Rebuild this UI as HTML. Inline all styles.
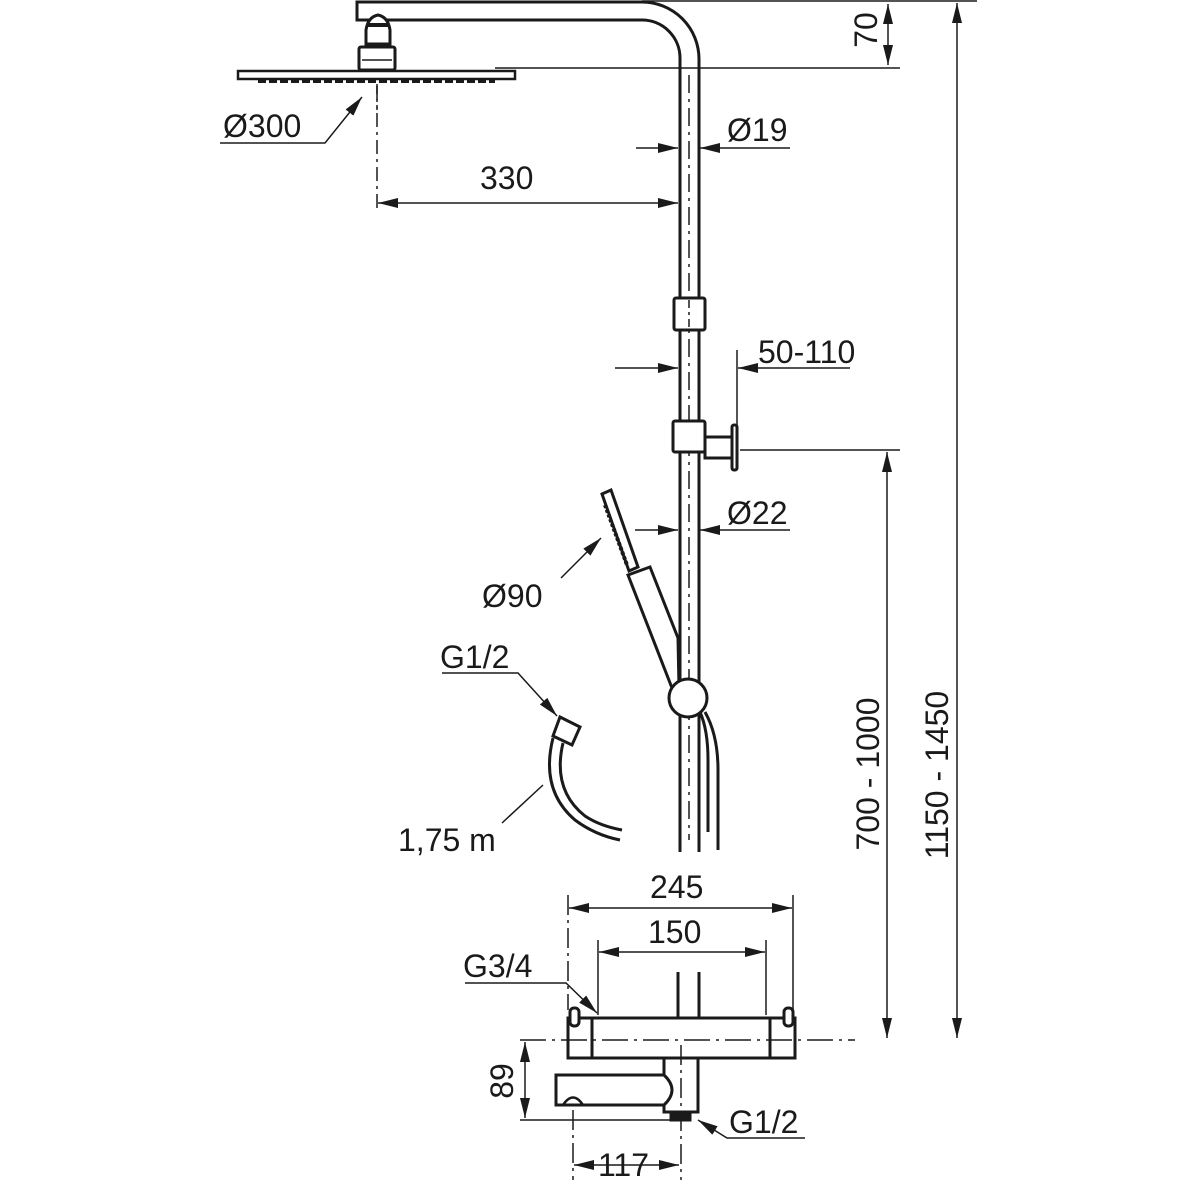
<!DOCTYPE html>
<html><head><style>html,body{margin:0;padding:0;background:#fff}svg{display:block}</style></head><body>
<svg width="1200" height="1200" viewBox="0 0 1200 1200" xmlns="http://www.w3.org/2000/svg" font-family="Liberation Sans, Arial, sans-serif" font-size="32" fill="none" stroke="#1a1a1a">
<defs>
<marker id="a" viewBox="0 0 20 10" refX="20" refY="5" markerWidth="20" markerHeight="10" markerUnits="userSpaceOnUse" orient="auto-start-reverse"><path d="M0,0 L20,5 L0,10 z" fill="#1a1a1a" stroke="none"/></marker>
</defs>
<g stroke-width="1.5">
<line x1="642" y1="1" x2="977" y2="1"/>
<line x1="495" y1="68" x2="900" y2="68"/>
<line x1="888" y1="4" x2="888" y2="65" marker-start="url(#a)" marker-end="url(#a)"/>
<line x1="957" y1="3" x2="957" y2="1038" marker-start="url(#a)" marker-end="url(#a)"/>
<line x1="887" y1="452" x2="887" y2="1038" marker-start="url(#a)" marker-end="url(#a)"/>
<polyline points="220,143 325,143 362,97" marker-end="url(#a)"/>
<line x1="636" y1="148" x2="678" y2="148" marker-end="url(#a)"/>
<polyline points="790,148 700,148" marker-end="url(#a)"/>
<line x1="378" y1="203" x2="678" y2="203" marker-start="url(#a)" marker-end="url(#a)"/>
<line x1="377" y1="86" x2="377" y2="212" stroke-dasharray="14,5,3,5"/>
<line x1="615" y1="368" x2="678" y2="368" marker-end="url(#a)"/>
<line x1="850" y1="368" x2="738" y2="368" marker-end="url(#a)"/>
<line x1="737" y1="350" x2="737" y2="425"/>
<line x1="740" y1="450" x2="900" y2="450"/>
<line x1="635" y1="530" x2="678" y2="530" marker-end="url(#a)"/>
<line x1="790" y1="530" x2="700" y2="530" marker-end="url(#a)"/>
<line x1="561" y1="578" x2="601" y2="538" marker-end="url(#a)"/>
<polyline points="442,673 518,673 557,716" marker-end="url(#a)"/>
<line x1="502" y1="823" x2="543" y2="785"/>
<line x1="569" y1="908" x2="792" y2="908" marker-start="url(#a)" marker-end="url(#a)"/>
<line x1="599" y1="952" x2="765" y2="952" marker-start="url(#a)" marker-end="url(#a)"/>
<line x1="568" y1="895" x2="568" y2="1010" stroke-dasharray="20,5,3,5"/>
<line x1="793" y1="895" x2="793" y2="1012"/>
<line x1="598" y1="940" x2="598" y2="1015"/>
<line x1="766" y1="940" x2="766" y2="1015"/>
<polyline points="465,983 566,983 597,1013" marker-end="url(#a)"/>
<line x1="520" y1="1040" x2="855" y2="1040" stroke-dasharray="26,6,3,6"/>
<line x1="525" y1="1042" x2="525" y2="1118" marker-start="url(#a)" marker-end="url(#a)"/>
<line x1="520" y1="1120" x2="670" y2="1120"/>
<polyline points="805,1138 727,1138 698,1120" marker-end="url(#a)"/>
<line x1="574" y1="1165" x2="679" y2="1165" marker-start="url(#a)" marker-end="url(#a)"/>
<line x1="573" y1="1110" x2="573" y2="1180" stroke-dasharray="20,5,3,5"/>
<line x1="681" y1="1045" x2="681" y2="1180" stroke-dasharray="20,5,3,5"/>
<line x1="689" y1="75" x2="689" y2="840" stroke-dasharray="18,6,3,6"/>
</g>
<g stroke-width="3">
<path d="M642,2 L357,2 L357,20 L642,20 A38,38 0 0 1 680,58 L680,852"/>
<path d="M642,2 A57,57 0 0 1 699,59 L699,852"/>
<path d="M366,44 L366,30 Q368,17 378,15 Q388,17 390,30 L390,44 Z" fill="#fff"/>
<line x1="367" y1="25" x2="389" y2="25" stroke-width="4"/>
<rect x="359" y="47" width="36" height="23" rx="2"/>
<line x1="362" y1="60" x2="392" y2="60" stroke-width="1.5"/>
<rect x="238" y="71" width="277" height="8" stroke-width="2.5"/>
<line x1="258" y1="81" x2="495" y2="81" stroke-width="4" stroke-dasharray="8,3"/>
<line x1="377" y1="84" x2="377" y2="110" stroke-width="1.5" stroke-dasharray="10,5,3,5"/>
<rect x="674" y="298" width="31" height="32" rx="2" fill="#fff"/>
<line x1="689" y1="300" x2="689" y2="328" stroke-width="1.5" stroke-dasharray="8,4,3,4"/>
<rect x="673" y="421" width="32" height="31" rx="2" fill="#fff"/>
<rect x="705" y="437" width="28" height="21"/>
<rect x="732" y="425" width="5" height="45" rx="2" fill="#fff"/>
<polygon points="602,494 611,490 638,567 629,571" fill="#fff"/>
<line x1="605" y1="505" x2="627" y2="565" stroke-width="4" stroke-dasharray="3,2"/>
<polygon points="628,575 650,567 678,638 679,688 672,688" fill="#fff"/>
<circle cx="688" cy="698" r="19" fill="#fff"/>
<path d="M700,712 Q708,730 708,760 L708,832"/>
<path d="M705,712 Q718,735 718,770 L718,850"/>
<polygon points="560,717 580,727 572,745 553,736" fill="#fff"/>
<path d="M553,738 Q540,790 575,820 Q595,835 620,840"/>
<path d="M563,743 Q552,790 585,816 Q600,826 622,830"/>
<line x1="678" y1="972" x2="678" y2="1018"/>
<line x1="699" y1="972" x2="699" y2="1018"/>
<rect x="568" y="1018" width="227" height="40"/>
<line x1="592" y1="1018" x2="592" y2="1058"/>
<line x1="770" y1="1018" x2="770" y2="1058"/>
<rect x="570" y="1008" width="9" height="18" rx="4" fill="#fff"/>
<rect x="784" y="1008" width="9" height="18" rx="4" fill="#fff"/>
<path d="M664,1058 L664,1075 L556,1075 L556,1105 L664,1105 L664,1112 L698,1112 L698,1058"/>
<path d="M664,1075 Q680,1090 664,1105"/>
<path d="M563,1105 Q573,1090 583,1105" stroke-width="2.5"/>
<rect x="671" y="1112" width="19" height="8" fill="#1a1a1a"/>
</g>
<g fill="#1a1a1a" stroke="none">
<text x="223" y="137">Ø300</text>
<text x="727" y="141">Ø19</text>
<text x="480" y="189">330</text>
<text x="758" y="363">50-110</text>
<text x="727" y="524">Ø22</text>
<text x="482" y="607">Ø90</text>
<text x="440" y="668">G1/2</text>
<text x="398" y="851">1,75 m</text>
<text x="650" y="898">245</text>
<text x="648" y="943">150</text>
<text x="463" y="977">G3/4</text>
<text x="729" y="1133">G1/2</text>
<text x="598" y="1176">117</text>
<text transform="translate(877,30) rotate(-90)" text-anchor="middle">70</text>
<text transform="translate(513,1081) rotate(-90)" text-anchor="middle">89</text>
<text transform="translate(879,774) rotate(-90)" text-anchor="middle">700 - 1000</text>
<text transform="translate(948,775) rotate(-90)" text-anchor="middle">1150 - 1450</text>
</g>
</svg>
</body></html>
